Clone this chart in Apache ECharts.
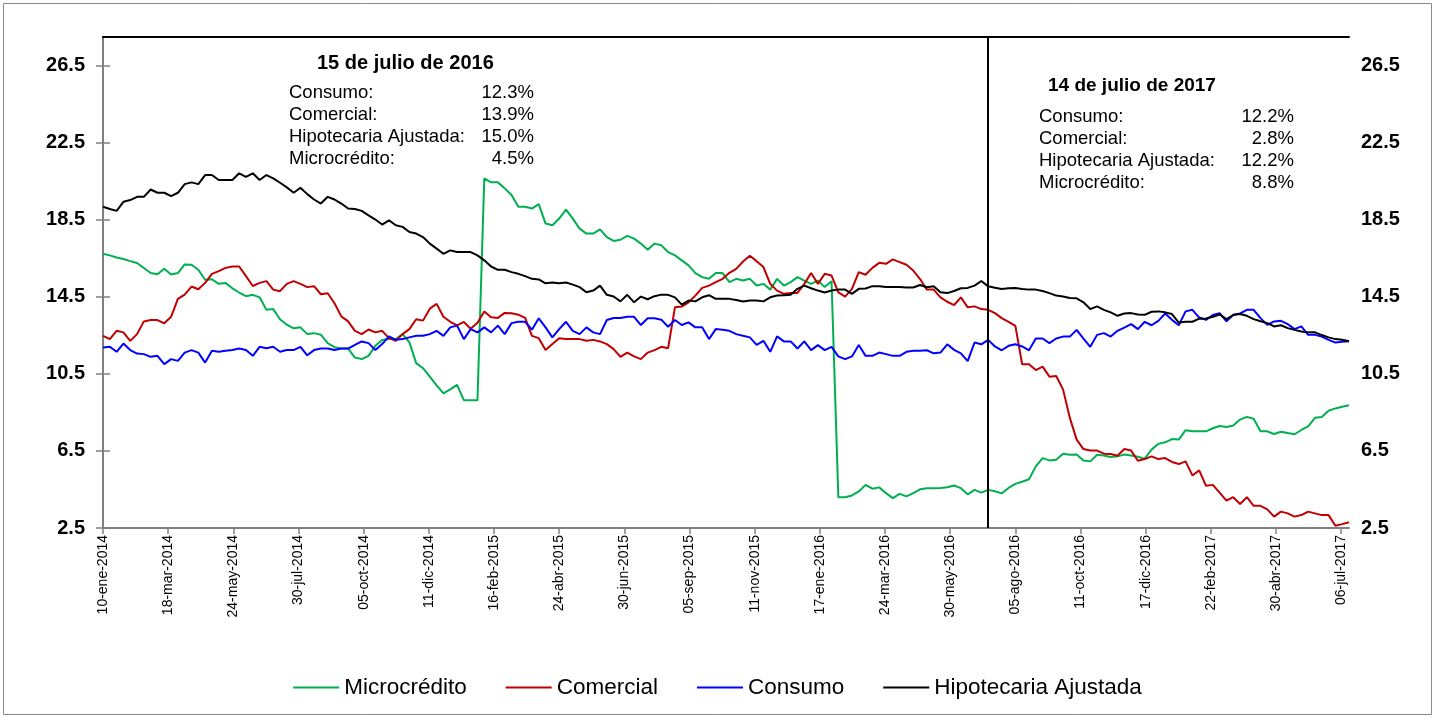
<!DOCTYPE html>
<html>
<head>
<meta charset="utf-8">
<script src="https://cdn.jsdelivr.net/npm/echarts@6/dist/echarts.min.js"></script>
<style>
  html, body { margin: 0; padding: 0; background: #fff; }
  #chart { width: 1435px; height: 718px; }
</style>
</head>
<body>
<div id="chart"></div>
<script>
// weekly series (Fridays) from 10-ene-2014 to 14-jul-2017
const startDate = [2014, 0, 10];
const weekStep = 7;

const microcredito = [
  16.74, 16.66, 16.55, 16.47, 16.36, 16.26, 16.00, 15.74, 15.68, 15.96,
  15.67, 15.74, 16.19, 16.17, 15.91, 15.39, 15.42, 15.18, 15.23, 14.95,
  14.73, 14.54, 14.61, 14.48, 13.84, 13.87, 13.34, 13.06, 12.87, 12.92,
  12.57, 12.62, 12.54, 12.10, 11.89, 11.82, 11.82, 11.35, 11.27, 11.44,
  11.96, 12.26, 12.31, 12.31, 12.57, 12.14, 11.06, 10.80, 10.36, 9.91,
  9.49, 9.70, 9.93, 9.14, 9.14, 9.14, 20.66, 20.45, 20.45, 20.14,
  19.79, 19.18, 19.18, 19.09, 19.32, 18.31, 18.22, 18.57, 19.04, 18.57,
  18.05, 17.79, 17.79, 18.01, 17.61, 17.41, 17.47, 17.67, 17.53, 17.27,
  16.95, 17.27, 17.18, 16.83, 16.66, 16.40, 16.14, 15.74, 15.53, 15.44,
  15.74, 15.74, 15.27, 15.44, 15.35, 15.44, 15.09, 15.18, 14.88, 15.44,
  15.09, 15.27, 15.53, 15.35, 15.18, 15.35, 15.01, 15.32, 4.10, 4.10,
  4.19, 4.40, 4.74, 4.54, 4.61, 4.31, 4.05, 4.27, 4.14, 4.31,
  4.51, 4.57, 4.57, 4.58, 4.62, 4.71, 4.57, 4.25, 4.48, 4.34,
  4.48, 4.41, 4.30, 4.58, 4.79, 4.90, 5.03, 5.70, 6.13, 6.01,
  6.04, 6.36, 6.30, 6.32, 6.01, 5.96, 6.30, 6.27, 6.19, 6.22,
  6.32, 6.27, 6.20, 6.10, 6.57, 6.87, 6.95, 7.12, 7.09, 7.58,
  7.52, 7.52, 7.52, 7.68, 7.80, 7.75, 7.82, 8.13, 8.27, 8.17,
  7.52, 7.52, 7.38, 7.50, 7.43, 7.37, 7.59, 7.78, 8.22, 8.27,
  8.59, 8.71, 8.80, 8.87
];

const comercial = [
  12.48, 12.31, 12.74, 12.66, 12.22, 12.57, 13.23, 13.30, 13.30, 13.13,
  13.47, 14.40, 14.62, 15.04, 14.90, 15.23, 15.70, 15.84, 16.01, 16.08,
  16.08, 15.58, 15.07, 15.23, 15.32, 14.88, 14.80, 15.18, 15.32, 15.18,
  15.01, 15.06, 14.64, 14.69, 14.17, 13.49, 13.23, 12.74, 12.57, 12.81,
  12.66, 12.74, 12.36, 12.22, 12.57, 12.83, 13.34, 13.27, 13.89, 14.14,
  13.47, 13.21, 13.02, 13.20, 12.85, 13.16, 13.74, 13.44, 13.41, 13.67,
  13.65, 13.58, 13.41, 12.48, 12.36, 11.74, 12.05, 12.36, 12.31, 12.31,
  12.31, 12.22, 12.27, 12.19, 12.05, 11.79, 11.39, 11.61, 11.41, 11.27,
  11.61, 11.74, 11.91, 11.84, 13.96, 14.00, 14.22, 14.57, 14.97, 15.09,
  15.27, 15.44, 15.75, 15.96, 16.34, 16.64, 16.36, 16.05, 15.18, 14.83,
  14.66, 14.71, 14.71, 15.18, 15.74, 15.18, 15.70, 15.61, 14.74, 14.52,
  14.92, 15.79, 15.65, 16.01, 16.27, 16.22, 16.45, 16.31, 16.17, 15.87,
  15.43, 14.88, 14.88, 14.48, 14.25, 14.08, 14.48, 13.96, 14.01, 13.87,
  13.83, 13.66, 13.40, 13.21, 13.00, 11.00, 11.00, 10.70, 10.88, 10.36,
  10.39, 9.70, 8.22, 7.09, 6.60, 6.53, 6.52, 6.36, 6.34, 6.25,
  6.60, 6.52, 5.99, 6.08, 6.22, 6.08, 6.13, 5.93, 5.82, 5.96,
  5.23, 5.49, 4.69, 4.74, 4.34, 3.92, 4.10, 3.75, 4.10, 3.65,
  3.65, 3.47, 3.09, 3.35, 3.26, 3.09, 3.17, 3.35, 3.26, 3.17,
  3.17, 2.62, 2.70, 2.80
];

const consumo = [
  11.87, 11.91, 11.65, 12.08, 11.74, 11.56, 11.53, 11.39, 11.44, 11.01,
  11.27, 11.18, 11.61, 11.74, 11.61, 11.09, 11.70, 11.65, 11.70, 11.74,
  11.82, 11.74, 11.44, 11.91, 11.84, 11.91, 11.65, 11.74, 11.74, 11.91,
  11.47, 11.74, 11.82, 11.82, 11.74, 11.82, 11.82, 12.01, 12.19, 12.10,
  11.74, 12.05, 12.45, 12.27, 12.31, 12.40, 12.48, 12.48, 12.57, 12.74,
  12.48, 12.92, 13.01, 12.31, 12.83, 12.66, 12.92, 12.66, 13.01, 12.57,
  13.14, 13.21, 13.21, 12.80, 13.39, 12.92, 12.40, 12.83, 13.21, 12.74,
  12.57, 12.92, 12.66, 12.57, 13.30, 13.41, 13.41, 13.47, 13.47, 13.04,
  13.39, 13.39, 13.32, 12.95, 13.30, 13.04, 13.18, 12.92, 12.92, 12.31,
  12.83, 12.80, 12.74, 12.57, 12.48, 12.40, 12.01, 12.22, 11.65, 12.45,
  12.19, 12.19, 11.82, 12.19, 11.74, 12.00, 11.74, 11.91, 11.41, 11.27,
  11.41, 12.00, 11.44, 11.44, 11.61, 11.53, 11.44, 11.44, 11.65, 11.70,
  11.70, 11.73, 11.57, 11.61, 12.04, 11.75, 11.57, 11.17, 12.13, 12.04,
  12.27, 11.93, 11.73, 11.96, 12.04, 11.93, 11.73, 12.34, 12.34, 12.10,
  12.34, 12.44, 12.44, 12.79, 12.34, 11.91, 12.53, 12.62, 12.44, 12.74,
  12.91, 13.09, 12.83, 13.21, 13.03, 13.26, 13.64, 13.31, 13.03, 13.75,
  13.83, 13.43, 13.31, 13.56, 13.66, 13.23, 13.57, 13.64, 13.83, 13.83,
  13.40, 13.05, 13.23, 13.26, 13.09, 12.83, 12.97, 12.53, 12.53, 12.44,
  12.27, 12.13, 12.17, 12.20
];

const hipotecaria = [
  19.18, 19.07, 18.97, 19.44, 19.53, 19.70, 19.70, 20.08, 19.91, 19.91,
  19.74, 19.91, 20.36, 20.45, 20.36, 20.83, 20.83, 20.57, 20.57, 20.57,
  20.92, 20.74, 20.92, 20.57, 20.83, 20.66, 20.43, 20.19, 19.91, 20.17,
  19.84, 19.56, 19.35, 19.70, 19.56, 19.35, 19.09, 19.07, 18.97, 18.74,
  18.52, 18.26, 18.48, 18.22, 18.14, 17.87, 17.79, 17.61, 17.27, 17.01,
  16.74, 16.92, 16.83, 16.83, 16.83, 16.66, 16.40, 16.08, 15.91, 15.91,
  15.79, 15.70, 15.58, 15.44, 15.41, 15.21, 15.25, 15.21, 15.25, 15.14,
  15.01, 14.74, 14.83, 15.09, 14.61, 14.52, 14.27, 14.61, 14.22, 14.52,
  14.38, 14.54, 14.62, 14.61, 14.48, 14.10, 14.31, 14.27, 14.48, 14.59,
  14.40, 14.40, 14.40, 14.34, 14.26, 14.31, 14.31, 14.27, 14.48, 14.57,
  14.59, 14.61, 14.92, 15.09, 14.95, 14.83, 14.73, 14.83, 14.88, 14.88,
  14.66, 14.92, 14.94, 15.06, 15.06, 15.02, 15.02, 15.01, 14.99, 14.99,
  15.12, 15.00, 15.05, 14.74, 14.70, 14.81, 14.95, 14.97, 15.09, 15.33,
  15.05, 14.98, 14.91, 14.95, 14.97, 14.91, 14.88, 14.88, 14.81, 14.70,
  14.57, 14.52, 14.45, 14.43, 14.22, 13.87, 14.01, 13.83, 13.70, 13.52,
  13.64, 13.66, 13.59, 13.57, 13.73, 13.75, 13.70, 13.61, 13.17, 13.21,
  13.21, 13.37, 13.38, 13.47, 13.59, 13.35, 13.56, 13.61, 13.52, 13.35,
  13.24, 13.14, 12.97, 13.03, 12.88, 12.79, 12.71, 12.66, 12.66, 12.52,
  12.40, 12.31, 12.28, 12.20
];

// axis labels every 67 days, y ticks every 4 from 2.5
const labelStepDays = 67;
const meses = ['ene', 'feb', 'mar', 'abr', 'may', 'jun', 'jul', 'ago', 'sep', 'oct', 'nov', 'dic'];
const yMin = 2.5, yMax = 28, yStep = 4;
const cutDate = [2016, 6, 8];

const notas2016 = [['Consumo:', '12.3%'], ['Comercial:', '13.9%'], ['Hipotecaria Ajustada:', '15.0%'], ['Microcrédito:', '4.5%']];
const notas2017 = [['Consumo:', '12.2%'], ['Comercial:', '2.8%'], ['Hipotecaria Ajustada:', '12.2%'], ['Microcrédito:', '8.8%']];

const DAY = 86400000;
const t0 = Date.UTC(startDate[0], startDate[1], startDate[2]);
const dias = microcredito.map((_, i) => i * weekStep);
const lastDay = dias[dias.length - 1];
const cutDay = (Date.UTC(cutDate[0], cutDate[1], cutDate[2]) - t0) / DAY;

const FONT = '"Liberation Sans", Arial, sans-serif';

function fmtFecha(v) {
  const d = new Date(t0 + Math.round(v) * DAY);
  const dd = String(d.getUTCDate()).padStart(2, '0');
  return dd + '-' + meses[d.getUTCMonth()] + '-' + d.getUTCFullYear();
}
const pares = arr => arr.map((v, i) => [dias[i], v]);

const chart = echarts.init(document.getElementById('chart'));

const notaTexts = (lista, xL, xR, y0, gap) => {
  const out = [];
  lista.forEach((r, k) => {
    out.push({ type: 'text', left: xL, top: y0 + k * gap, style: { text: r[0], font: '18.5px ' + FONT, fill: '#000' } });
    out.push({ type: 'text', right: 1435 - xR, top: y0 + k * gap, style: { text: r[1], font: '18.5px ' + FONT, fill: '#000' } });
  });
  return out;
};

const yAxisBase = {
  type: 'value', min: yMin, max: yMax, interval: yStep,
  splitLine: { show: false },
  axisLine: { show: true, lineStyle: { color: '#808080', width: 2 } },
  axisTick: { show: true, inside: false, length: 7, lineStyle: { color: '#808080', width: 1.5 } },
  axisLabel: {
    showMaxLabel: false, color: '#000', fontFamily: FONT, fontSize: 20, fontWeight: 'bold',
    formatter: v => v.toFixed(1)
  }
};

const lineSeries = (name, data, color) => ({
  name, type: 'line', data: pares(data), showSymbol: false, symbol: 'none',
  lineStyle: { color, width: 2 }, itemStyle: { color }, z: 3
});

const serieHip = lineSeries('Hipotecaria Ajustada', hipotecaria, '#000000');
serieHip.markLine = {
  silent: true, symbol: 'none', label: { show: false },
  lineStyle: { color: '#000', width: 2, type: 'solid' },
  data: [{ xAxis: cutDay }]
};

chart.setOption({
  animation: false,
  backgroundColor: '#fff',
  grid: { left: 103, right: 86, top: 37, bottom: 190 },
  legend: {
    data: ['Microcrédito', 'Comercial', 'Consumo', 'Hipotecaria Ajustada'],
    bottom: 14, left: 'center',
    icon: 'rect', itemWidth: 46, itemHeight: 2, itemGap: 39,
    textStyle: { color: '#000', fontFamily: FONT, fontSize: 22.5 }
  },
  xAxis: [{
    type: 'value', min: 0, max: lastDay, interval: labelStepDays,
    splitLine: { show: false },
    axisLine: { show: true, lineStyle: { color: '#808080', width: 2 } },
    axisTick: { show: true, length: 6, lineStyle: { color: '#808080', width: 1.5 } },
    axisLabel: {
      rotate: 90, margin: 7, showMaxLabel: false,
      color: '#000', fontFamily: FONT, fontSize: 14,
      formatter: fmtFecha
    }
  }, {
    type: 'value', position: 'top', min: 0, max: lastDay,
    splitLine: { show: false },
    axisLine: { show: true, lineStyle: { color: '#000', width: 2 } },
    axisTick: { show: false }, axisLabel: { show: false }
  }],
  yAxis: [
    Object.assign({}, yAxisBase, { position: 'left', axisLabel: Object.assign({}, yAxisBase.axisLabel, { margin: 18 }) }),
    Object.assign({}, yAxisBase, { position: 'right', axisLabel: Object.assign({}, yAxisBase.axisLabel, { margin: 12 }) })
  ],
  series: [
    lineSeries('Microcrédito', microcredito, '#00B050'),
    lineSeries('Comercial', comercial, '#C00000'),
    lineSeries('Consumo', consumo, '#0000FF'),
    serieHip
  ],
  graphic: [
    { type: 'rect', shape: { x: 3.5, y: 3.5, width: 1428, height: 711 }, style: { fill: 'none', stroke: '#898989', lineWidth: 1 }, silent: true, z: -10 },
    { type: 'text', left: 317, top: 53, style: { text: '15 de julio de 2016', font: 'bold 20px ' + FONT, fill: '#000' } },
    ...notaTexts(notas2016, 289, 534, 83, 22.3),
    { type: 'text', left: 1048, top: 76, style: { text: '14 de julio de 2017', font: 'bold 19px ' + FONT, fill: '#000' } },
    ...notaTexts(notas2017, 1039, 1294, 107, 22)
  ]
});
</script>
</body>
</html>
